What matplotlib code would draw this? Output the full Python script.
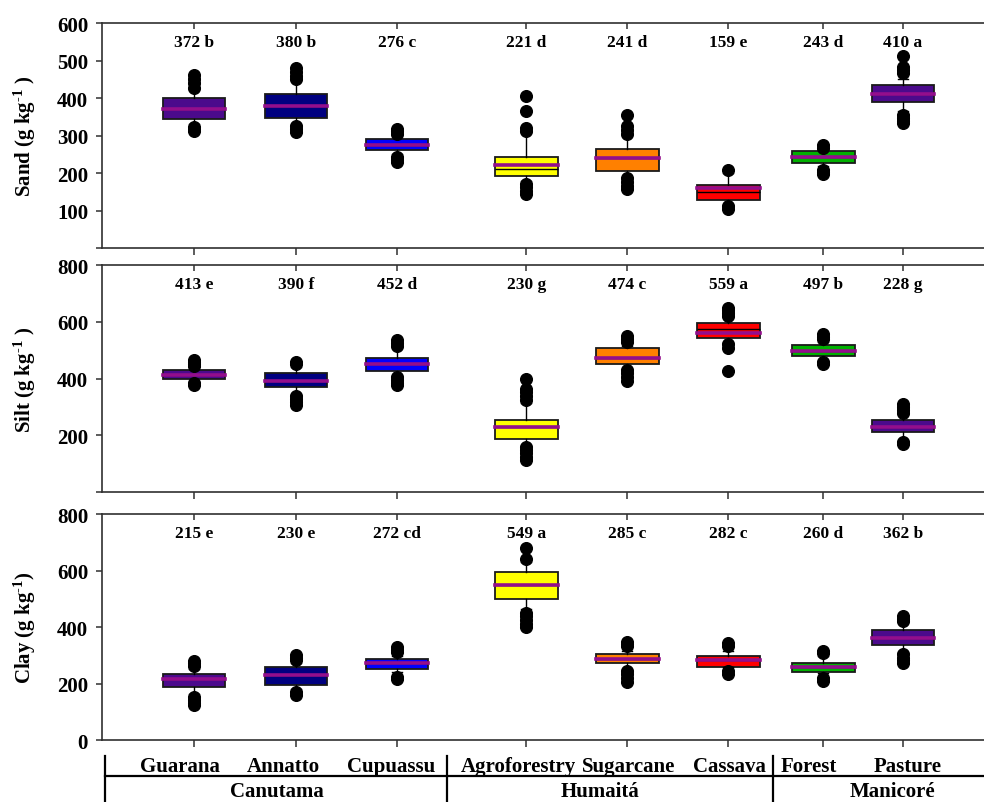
import matplotlib
matplotlib.use("Agg")
import matplotlib.pyplot as plt
from matplotlib.lines import Line2D

plt.rcParams['font.family'] = ['Liberation Serif', 'DejaVu Serif']
plt.rcParams['font.weight'] = 'bold'
plt.rcParams['mathtext.fontset'] = 'custom'
plt.rcParams['mathtext.rm'] = 'Liberation Serif:bold'
plt.rcParams['mathtext.it'] = 'Liberation Serif:bold'
plt.rcParams['mathtext.bf'] = 'Liberation Serif:bold'

# Land-use systems and municipalities
systems = ["Guarana", "Annatto", "Cupuassu", "Agroforestry",
           "Sugarcane", "Cassava", "Forest", "Pasture"]
municipalities = ["Canutama", "Humaitá", "Manicoré"]
box_colors = ["#4B0A8C", "#000080", "#0000FF", "#FFFF00",
              "#FF8000", "#FF0000", "#00B000", "#4B0A8C"]

# Sand (g kg-1)
sand_mean = [372, 380, 276, 221, 241, 159, 243, 410]
sand_letter = ["b", "b", "c", "d", "d", "e", "d", "a"]
sand_median = [372, 380, 276, 212, 241, 150, 243, 410]
sand_q1 = [343, 347, 262, 193, 205, 129, 228, 389]
sand_q3 = [400, 411, 292, 242, 263, 168, 260, 436]
sand_whislo = [330, 332, 250, 178, 190, 118, 218, 365]
sand_whishi = [422, 445, 300, 308, 298, 200, 262, 450]
sand_out_hi = [[428, 440, 450, 461], [452, 460, 470, 481], [305, 312, 318],
               [312, 320, 365, 405], [305, 315, 325, 354], [207], [268, 276],
               [467, 476, 484, 512]]
sand_out_lo = [[324, 318, 312], [325, 318, 310], [242, 236, 230],
               [172, 163, 153, 144], [186, 176, 166, 157], [112, 104],
               [209, 203, 197], [356, 347, 340, 333]]

# Silt (g kg-1)
silt_mean = [413, 390, 452, 230, 474, 559, 497, 228]
silt_letter = ["e", "f", "d", "g", "c", "a", "b", "g"]
silt_median = [413, 390, 452, 230, 474, 573, 497, 228]
silt_q1 = [398, 370, 428, 188, 452, 544, 479, 211]
silt_q3 = [430, 418, 471, 253, 506, 597, 518, 252]
silt_whislo = [390, 345, 412, 165, 436, 527, 466, 182]
silt_whishi = [440, 440, 506, 315, 515, 612, 530, 271]
silt_out_hi = [[445, 452, 458, 464], [450, 458], [516, 526, 536],
               [325, 340, 352, 362, 398], [528, 540, 550],
               [620, 632, 642, 650], [539, 548, 558], [280, 290, 300, 311]]
silt_out_lo = [[385, 378], [338, 328, 316, 305], [405, 395, 385, 377],
               [160, 148, 136, 124, 113], [430, 418, 405, 390],
               [520, 506, 426], [459, 452], [176, 168]]

# Clay (g kg-1)
clay_mean = [215, 230, 272, 549, 285, 282, 260, 362]
clay_letter = ["e", "e", "cd", "a", "c", "c", "d", "b"]
clay_median = [215, 230, 272, 549, 285, 284, 260, 362]
clay_q1 = [189, 196, 250, 498, 271, 259, 241, 337]
clay_q3 = [234, 260, 285, 596, 303, 299, 273, 390]
clay_whislo = [162, 180, 239, 463, 251, 257, 236, 310]
clay_whishi = [251, 274, 298, 629, 316, 316, 296, 415]
clay_out_hi = [[262, 272, 280], [284, 292, 300], [310, 320, 330], [641, 678],
               [331, 340, 347], [331, 342], [307, 315], [420, 430, 440]]
clay_out_lo = [[152, 142, 132, 124], [170, 160], [224, 215],
               [451, 438, 425, 412, 400], [245, 232, 218, 204], [244, 235],
               [218, 210], [303, 292, 282, 272]]

# Layout
positions = [1.0, 2.01, 3.01, 4.29, 5.29, 6.29, 7.23, 8.02]
label_x = [0.861, 1.881, 2.950, 4.208, 5.307, 6.297, 7.089, 8.069]
box_width = 0.62
mean_color = "#930E8C"

panels = [
    dict(label="Sand (g kg$^{\\text{-1}}$ )", ylim=600, step=100, show_zero=False,
         mean=sand_mean, letter=sand_letter, med=sand_median, q1=sand_q1,
         q3=sand_q3, lo=sand_whislo, hi=sand_whishi, out_hi=sand_out_hi,
         out_lo=sand_out_lo, rect=[0.10366, 0.68991, 0.89634, 0.28020]),
    dict(label="Silt (g kg$^{\\text{-1}}$ )", ylim=800, step=200, show_zero=False,
         mean=silt_mean, letter=silt_letter, med=silt_median, q1=silt_q1,
         q3=silt_q3, lo=silt_whislo, hi=silt_whishi, out_hi=silt_out_hi,
         out_lo=silt_out_lo, rect=[0.10366, 0.38605, 0.89634, 0.28269]),
    dict(label="Clay (g kg$^{\\text{-1}}$)", ylim=800, step=200, show_zero=True,
         mean=clay_mean, letter=clay_letter, med=clay_median, q1=clay_q1,
         q3=clay_q3, lo=clay_whislo, hi=clay_whishi, out_hi=clay_out_hi,
         out_lo=clay_out_lo, rect=[0.10366, 0.07721, 0.89634, 0.28144]),
]

fig = plt.figure(figsize=(9.84, 8.03), dpi=100)
spine_color = "#303030"

axes = []
for p in panels:
    ax = fig.add_axes(p["rect"])
    stats = []
    for i in range(len(systems)):
        stats.append(dict(med=p["med"][i], q1=p["q1"][i], q3=p["q3"][i],
                          whislo=p["lo"][i], whishi=p["hi"][i],
                          mean=p["mean"][i],
                          fliers=p["out_hi"][i] + p["out_lo"][i]))
    bp = ax.bxp(stats, positions=positions, widths=box_width,
                capwidths=0.1, patch_artist=True, showmeans=True,
                meanline=True, manage_ticks=False,
                boxprops=dict(edgecolor="#1a1a1a", linewidth=1.3),
                medianprops=dict(color="black", linewidth=1.0),
                whiskerprops=dict(color="black", linewidth=1.0),
                capprops=dict(color="black", linewidth=1.0),
                meanprops=dict(color=mean_color, linewidth=2.6,
                               linestyle="-", solid_capstyle="projecting"),
                flierprops=dict(marker="o", markerfacecolor="black",
                                markeredgecolor="black", markersize=8.4))
    for patch, c in zip(bp["boxes"], box_colors):
        patch.set_facecolor(c)

    for x, m, l in zip(positions, p["mean"], p["letter"]):
        ax.text(x, 0.915, f"{m} {l}", transform=ax.get_xaxis_transform(),
                ha="center", va="center", fontsize=12.5, fontweight="bold")

    ax.set_xlim(0.089, 8.822)
    ax.set_ylim(0, p["ylim"])
    yt = list(range(0, p["ylim"] + 1, p["step"]))
    ax.set_yticks(yt)
    ax.set_yticklabels([str(v) if (v > 0 or p["show_zero"]) else "" for v in yt])
    ax.set_xticks(positions)
    ax.set_xticklabels([])
    ax.tick_params(axis="y", direction="out", length=4, width=1.1,
                   pad=6, labelsize=15, color=spine_color)
    ax.tick_params(axis="x", direction="out", length=5, width=1.1,
                   color=spine_color)
    for s in ("left", "bottom", "top"):
        ax.spines[s].set_color(spine_color)
        ax.spines[s].set_linewidth(1.2)
    ax.spines["right"].set_visible(False)

    top = ax.secondary_xaxis("top")
    top.set_xticks(positions)
    top.set_xticklabels([])
    top.tick_params(direction="in", length=4.5, width=1.1, color=spine_color)
    top.spines["top"].set_visible(False)

    ax.set_ylabel(p["label"], fontsize=15, fontweight="bold")
    ax.yaxis.set_label_coords(-0.072, 0.5)
    axes.append(ax)

# Category labels under the last panel
ax_b = axes[-1]
for x, name in zip(label_x, systems):
    ax_b.text(x, -0.113, name, transform=ax_b.get_xaxis_transform(),
              ha="center", va="center", fontsize=15, fontweight="bold")

# Municipality grouping lines and names
H = 803.0
W = 984.0
def fx(px):
    return px / W
def fy(py):
    return 1 - py / H

fig.add_artist(Line2D([fx(105), 1.0], [fy(777), fy(777)], color="black",
                      linewidth=1.6, transform=fig.transFigure))
for sx in (105, 447, 773):
    fig.add_artist(Line2D([fx(sx), fx(sx)], [fy(757), 0.0], color="black",
                          linewidth=1.6, transform=fig.transFigure))
for cx, name in zip((277, 600, 892), municipalities):
    fig.text(fx(cx), fy(792), name, ha="center", va="center",
             fontsize=15, fontweight="bold")

fig.savefig("out.png", dpi=100)
